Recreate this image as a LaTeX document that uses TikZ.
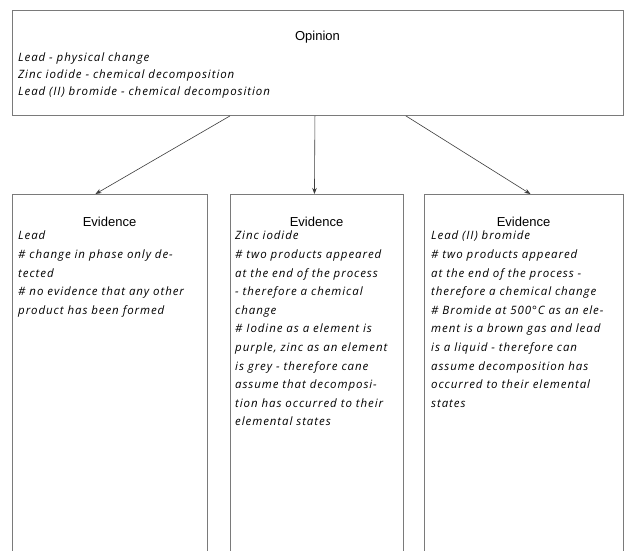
\documentclass[tikz,border=0pt]{standalone}
\usepackage{fontspec}
\setmainfont{Liberation Sans}
\newfontfamily\hand[LetterSpace=8]{Open Sans}
\usetikzlibrary{arrows.meta}
\definecolor{linegray}{HTML}{7A7A7A}
\definecolor{arrowgray}{HTML}{3C3C3C}
\begin{document}
\begin{tikzpicture}[x=1pt,y=-1pt,
  box/.style={draw=linegray, line width=0.9pt, inner sep=0pt, anchor=north west},
  titletext/.style={font=\fontsize{13}{15}\selectfont, inner sep=0pt},
  bodytext/.style={font=\hand\itshape\fontsize{11.5}{18.6}\selectfont, align=left, anchor=north west, inner sep=0pt},
  optext/.style={font=\hand\itshape\fontsize{11.5}{17}\selectfont, align=left, anchor=north west, inner sep=0pt},
  conn/.style={draw=arrowgray, line width=0.6pt, -{Stealth[length=6pt,width=4.5pt]}}]
\clip (0,0) rectangle (627,551);
\fill[white] (0,0) rectangle (627,551);
% boxes
\node[box, minimum width=611pt, minimum height=105pt] (op) at (12,10) {};
\node[box, minimum width=195pt, minimum height=370pt] (e1) at (12,194) {};
\node[box, minimum width=173pt, minimum height=370pt] (e2) at (230,194) {};
\node[box, minimum width=199pt, minimum height=370pt] (e3) at (424,194) {};
% titles
\node[titletext] (opt) at (317.5,37) {Opinion};
\node[titletext] (e1t) at (109.5,222) {Evidence};
\node[titletext] (e2t) at (316.5,222) {Evidence};
\node[titletext] (e3t) at (523.5,222) {Evidence};
% bodies
\node[optext] (opb) at (18,53) {Lead - physical change\\Zinc iodide - chemical decomposition\\Lead (II) bromide - chemical decomposition};
\node[bodytext] (e1b) at (18,231) {Lead\\\# change in phase only de-\\tected\\\# no evidence that any other\\product has been formed};
\node[bodytext] (e2b) at (235,231) {Zinc iodide\\\# two products appeared\\at the end of the process\\- therefore a chemical\\change\\\# Iodine as a element is\\purple, zinc as an element\\is grey - therefore cane\\assume that decomposi-\\tion has occurred to their\\elemental states};
\node[bodytext] (e3b) at (431,231) {Lead (II) bromide\\\# two products appeared\\at the end of the process -\\therefore a chemical change\\\# Bromide at 500°C as an ele-\\ment is a brown gas and lead\\is a liquid - therefore can\\assume decomposition has\\occurred to their elemental\\states};
% connectors
\draw[conn] (op.south -| e2.north west) -- ([xshift=-14.5pt]e1.north);
\draw[conn] ([xshift=-3pt]op.south) -- ([xshift=-2.5pt]e2.north);
\draw[conn] ([xshift=2pt]op.south -| e2.north east) -- ([xshift=6.5pt]e3.north);
\end{tikzpicture}
\end{document}
